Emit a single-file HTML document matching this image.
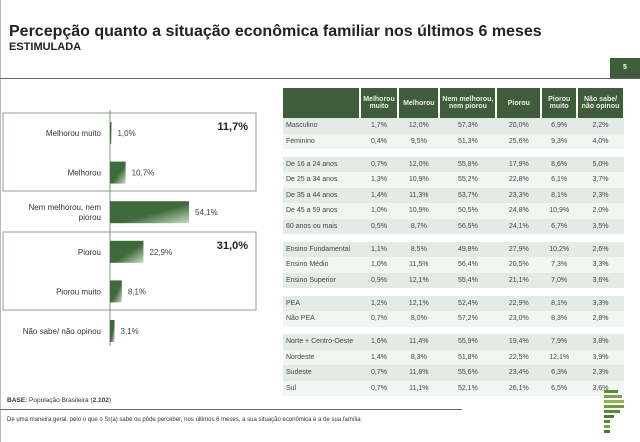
<!DOCTYPE html>
<html><head><meta charset="utf-8">
<style>
body{margin:0;width:640px;height:442px;background:#fff;font-family:"Liberation Sans",sans-serif;position:relative;overflow:hidden}
.a{position:absolute}
td,th{font-size:7px;color:#444;text-align:center;padding:0;font-weight:normal}
th{background:#3f5d3b;color:#e8efe6;font-weight:bold;border-right:2px solid #fff}
</style></head><body>
<div class="a" style="left:0;top:0;width:1px;height:442px;background:#bbb"></div>
<div class="a" style="left:9px;top:23px;font-size:16px;font-weight:bold;color:#222">Percepção quanto a situação econômica familiar nos últimos 6 meses</div>
<div class="a" style="left:9px;top:41px;font-size:11px;font-weight:bold;color:#222">ESTIMULADA</div>
<div class="a" style="left:0;top:78px;width:640px;height:1px;background:#666"></div>
<div class="a" style="left:610px;top:58px;width:30px;height:20px;background:#3f5d3b;color:#fff;font-size:7px;font-weight:bold;text-align:center;line-height:20px">5</div>

<svg class="a" style="left:0;top:0" width="280" height="360">
<defs><linearGradient id="g" x1="0" y1="0" x2="1" y2="1"><stop offset="0.55" stop-color="#3f6a3c"/><stop offset="1" stop-color="#c9dcc4"/></linearGradient></defs>
<rect x="3" y="113" width="253" height="78" fill="none" stroke="#8ea486"/>
<rect x="3" y="232" width="253" height="78" fill="none" stroke="#8ea486"/>
<line x1="110" y1="110" x2="110" y2="346" stroke="#888"/>
<text x="248" y="130" font-size="11" font-weight="bold" text-anchor="end" fill="#222">11,7%</text>
<text x="248" y="249" font-size="11" font-weight="bold" text-anchor="end" fill="#222">31,0%</text>
<g id="bars"></g>
</svg>

<table class="a" style="left:283px;top:88px;width:342px;border-collapse:collapse" id="tbl"></table>

<div class="a" style="left:7px;top:397px;font-size:6.5px;color:#333"><b>BASE:</b> População Brasileira (<b>2.102</b>)</div>
<div class="a" style="left:0;top:409px;width:462px;height:1px;background:#666"></div>
<div class="a" style="left:7px;top:417px;font-size:6px;color:#333">De uma maneira geral, pelo o que o Sr(a) sabe ou pôde perceber, nos últimos 6 meses, a sua situação econômica e a de sua família:</div>
<svg class="a" style="left:604px;top:390px" width="24" height="46">
<rect x="0" y="0" width="14" height="3" fill="#5b8c3a"/><rect x="0" y="5" width="18" height="3" fill="#7aa44a"/><rect x="0" y="10" width="20" height="3" fill="#8fb558"/><rect x="0" y="15" width="20" height="3" fill="#6e9a40"/><rect x="0" y="20" width="16" height="3" fill="#5b8c3a"/><rect x="0" y="25" width="10" height="3" fill="#4b7a30"/><rect x="0" y="30" width="6" height="3" fill="#5b8c3a"/><rect x="0" y="35" width="6" height="3" fill="#7aa44a"/><rect x="0" y="40" width="6" height="3" fill="#4b7a30"/>
</svg>

<script>
const categories=["Melhorou muito","Melhorou","Nem melhorou, nem|piorou","Piorou","Piorou muito","Não sabe/ não opinou"];
const values=[1.0,10.7,54.1,22.9,8.1,3.1];
const labels=["1,0%","10,7%","54,1%","22,9%","8,1%","3,1%"];
const x0=110,scale=79/54.1;
const yc=i=>133+i*39.6;
const xw=v=>v*scale;
const g=document.getElementById('bars');
const NS="http://www.w3.org/2000/svg";
categories.forEach((c,i)=>{
 const r=document.createElementNS(NS,'rect');
 r.setAttribute('x',x0);r.setAttribute('y',yc(i)-11);r.setAttribute('width',Math.max(xw(values[i]),1));r.setAttribute('height',22);r.setAttribute('fill','url(#g)');
 
 
 g.appendChild(r);
 const t=document.createElementNS(NS,'text');
 t.setAttribute('x',x0+xw(values[i])+6);t.setAttribute('y',yc(i)+3);t.setAttribute('font-size','8');t.setAttribute('fill','#444');t.textContent=labels[i];
 
 
 g.appendChild(t);
 const parts=c.split('|');
 parts.forEach((p,k)=>{
  const l=document.createElementNS(NS,'text');
  l.setAttribute('x',101);l.setAttribute('y',yc(i)+3+(k-(parts.length-1)/2)*10);l.setAttribute('font-size','8');l.setAttribute('text-anchor','end');l.setAttribute('fill','#333');l.textContent=p;
  
  
  g.appendChild(l);
 });
});
const heads=["","Melhorou<br>muito","Melhorou","Nem melhorou,<br>nem piorou","Piorou","Piorou<br>muito","Não sabe/<br>não opinou"];
const widths=[79,37,40,57,45,35,47];
const groups=[
[["Masculino","1,7%","12,0%","57,3%","20,0%","6,9%","2,2%"],["Feminino","0,4%","9,5%","51,3%","25,6%","9,3%","4,0%"]],
[["De 16 a 24 anos","0,7%","12,0%","55,8%","17,9%","8,6%","5,0%"],["De 25 a 34 anos","1,3%","10,9%","55,2%","22,8%","6,1%","3,7%"],["De 35 a 44 anos","1,4%","11,3%","53,7%","23,3%","8,1%","2,3%"],["De 45 a 59 anos","1,0%","10,9%","50,5%","24,8%","10,9%","2,0%"],["60 anos ou mais","0,5%","8,7%","56,5%","24,1%","6,7%","3,5%"]],
[["Ensino Fundamental","1,1%","8,5%","49,8%","27,9%","10,2%","2,6%"],["Ensino Médio","1,0%","11,5%","56,4%","20,5%","7,3%","3,3%"],["Ensino Superior","0,9%","12,1%","55,4%","21,1%","7,0%","3,6%"]],
[["PEA","1,2%","12,1%","52,4%","22,9%","8,1%","3,3%"],["Não PEA","0,7%","8,0%","57,2%","23,0%","8,3%","2,8%"]],
[["Norte + Centro-Oeste","1,6%","11,4%","55,9%","19,4%","7,9%","3,8%"],["Nordeste","1,4%","8,3%","51,8%","22,5%","12,1%","3,9%"],["Sudeste","0,7%","11,8%","55,6%","23,4%","6,3%","2,3%"],["Sul","0,7%","11,1%","52,1%","26,1%","6,5%","3,6%"]]];
let h='<tr style="height:30px">'+heads.map((x,i)=>'<th style="width:'+widths[i]+'px">'+x+'</th>').join('')+'</tr>';
groups.forEach((gr,gi)=>{
 if(gi>0)h+='<tr style="height'+':7.5px"><td colspan="7"></td></tr>';
 gr.forEach((r,ri)=>{
  h+='<tr style="height:15.5px;background:'+(ri%2?'#f1f6f2':'#e2ece5')+'">'+r.map((c,ci)=>'<td style="'+(ci==0?'text-align:left;padding-left:3px':'')+'">'+c+'</td>').join('')+'</tr>';
 });
});
document.getElementById('tbl').innerHTML=h;
</script>
</body></html>
